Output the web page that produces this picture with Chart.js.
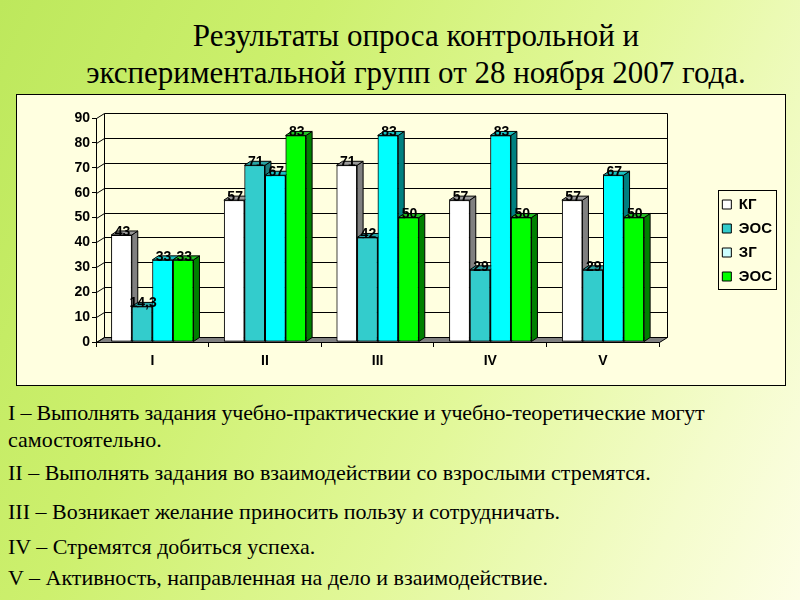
<!DOCTYPE html>
<html><head><meta charset="utf-8">
<script src="https://cdn.jsdelivr.net/npm/chart.js@4"></script>
<style>
html,body{margin:0;padding:0;}
body{width:800px;height:600px;overflow:hidden;position:relative;
background:linear-gradient(115deg,#bde85c 0%,#cdf06e 30%,#e2f89a 60%,#f4fccc 85%,#fdfee6 100%);
font-family:"Liberation Serif","Times New Roman",serif;color:#000;}
#title{position:absolute;left:30px;width:772px;top:17px;text-align:center;font-size:31px;line-height:37px;}
#box{position:absolute;left:16px;top:94px;width:769px;height:291px;background:#ffffe0;}
#frame{position:absolute;left:16px;top:94px;width:768px;height:290px;border:1px solid #000;pointer-events:none;}
.note{position:absolute;left:8px;font-size:22px;line-height:22px;white-space:nowrap;}
</style></head>
<body>
<div id="title">Результаты опроса контрольной и<br>экспериментальной групп от 28 ноября 2007 года.</div>
<div id="box"><canvas id="c"></canvas></div>
<div id="frame"></div>
<div class="note" style="top:402px;letter-spacing:-0.2px">I – Выполнять задания учебно-практические и учебно-теоретические могут</div>
<div class="note" style="top:429px">самостоятельно.</div>
<div class="note" style="top:462px">II – Выполнять задания во взаимодействии со взрослыми стремятся.</div>
<div class="note" style="top:501px">III – Возникает желание приносить пользу и сотрудничать.</div>
<div class="note" style="top:536px">IV – Стремятся добиться успеха.</div>
<div class="note" style="top:567px">V – Активность, направленная на дело и взаимодействие.</div>
<script>
// ---- data ----
const categories = ['I', 'II', 'III', 'IV', 'V'];
const seriesNames = ['КГ', 'ЭОС', 'ЗГ', 'ЭОС'];
const kgValues = [43, 57, 71, 57, 57];
const eos1Values = [14.3, 71, 42, 29, 29];
const zgValues = [33, 67, 83, 83, 67];
const eos2Values = [33, 83, 50, 50, 50];
const yTicks = [0, 10, 20, 30, 40, 50, 60, 70, 80, 90];

// ---- styles ----
const frontColors = ['#ffffff', '#33cccc', '#00ffff', '#00ff00'];
const sideColors = ['#808080', '#1a7a7a', '#008080', '#008000'];
const topColors = ['#9a9a9a', '#29a3a3', '#19c2c2', '#22c022'];
const legendColors = ['#ffffff', '#33cccc', '#ccffff', '#00ff00'];
const FONT = '"Liberation Sans", Arial, sans-serif';
const WALL_DX = 8, WALL_DY = 5, BAR_DX = 6, BAR_DY = 4;

const threeD = {
  id: 'threeD',
  beforeDatasetsDraw(chart) {
    const { ctx, chartArea: a, scales: { y } } = chart;
    ctx.save();
    ctx.lineWidth = 1; ctx.strokeStyle = '#000';
    const L = Math.round(a.left) + 0.5, R = Math.round(a.right) + 0.5;
    const yb = Math.round(y.getPixelForValue(yTicks[0])) + 0.5;
    const yt = Math.round(y.getPixelForValue(yTicks[yTicks.length - 1])) + 0.5;
    ctx.fillStyle = '#808080';
    ctx.beginPath();
    ctx.moveTo(L, yb); ctx.lineTo(R, yb); ctx.lineTo(R + WALL_DX, yb - WALL_DY); ctx.lineTo(L + WALL_DX, yb - WALL_DY);
    ctx.closePath(); ctx.fill(); ctx.stroke();
    for (const v of yTicks) {
      const yf = Math.round(y.getPixelForValue(v)) + 0.5;
      ctx.beginPath();
      ctx.moveTo(L, yf); ctx.lineTo(L + WALL_DX, yf - WALL_DY); ctx.lineTo(R + WALL_DX, yf - WALL_DY);
      ctx.stroke();
    }
    ctx.beginPath();
    ctx.moveTo(L + WALL_DX, yt - WALL_DY); ctx.lineTo(L + WALL_DX, yb - WALL_DY);
    ctx.moveTo(R + WALL_DX, yt - WALL_DY); ctx.lineTo(R + WALL_DX, yb - WALL_DY);
    ctx.stroke();
    ctx.restore();
  },
  afterDatasetsDraw(chart) {
    const ctx = chart.ctx;
    ctx.save();
    ctx.lineWidth = 1; ctx.strokeStyle = '#000';
    chart.data.datasets.forEach((ds, di) => {
      const meta = chart.getDatasetMeta(di);
      meta.data.forEach((el) => {
        el.draw(ctx);
        const p = el.getProps(['x', 'y', 'width', 'base'], true);
        const l = p.x - p.width / 2, r = p.x + p.width / 2;
        ctx.fillStyle = sideColors[di];
        ctx.beginPath();
        ctx.moveTo(r, p.y); ctx.lineTo(r + BAR_DX, p.y - BAR_DY); ctx.lineTo(r + BAR_DX, p.base - BAR_DY); ctx.lineTo(r, p.base);
        ctx.closePath(); ctx.fill(); ctx.stroke();
        ctx.fillStyle = topColors[di];
        ctx.beginPath();
        ctx.moveTo(l, p.y); ctx.lineTo(l + BAR_DX, p.y - BAR_DY); ctx.lineTo(r + BAR_DX, p.y - BAR_DY); ctx.lineTo(r, p.y);
        ctx.closePath(); ctx.fill(); ctx.stroke();
      });
    });
    ctx.font = 'bold 14px ' + FONT;
    ctx.fillStyle = '#000'; ctx.textAlign = 'center'; ctx.textBaseline = 'middle';
    chart.data.datasets.forEach((ds, di) => {
      chart.getDatasetMeta(di).data.forEach((el, i) => {
        const p = el.getProps(['x', 'y'], true);
        ctx.fillText(String(ds.data[i]).replace('.', ','), p.x + 1, p.y - 3);
      });
    });
    ctx.restore();
  }
};

const legendFrame = {
  id: 'legendFrame',
  afterDraw(chart) {
    const hb = chart.legend && chart.legend.legendHitBoxes;
    if (!hb || !hb.length) return;
    const ctx = chart.ctx;
    const left = Math.min(...hb.map(h => h.left)) - 4;
    const right = Math.max(...hb.map(h => h.left + h.width)) + 4;
    const top = hb[0].top - 7, bottom = hb[hb.length - 1].top + hb[hb.length - 1].height + 5;
    ctx.save();
    ctx.strokeStyle = '#000'; ctx.lineWidth = 1;
    ctx.strokeRect(Math.round(left) + 0.5, Math.round(top) + 0.5, Math.round(right - left), Math.round(bottom - top));
    ctx.restore();
  }
};

const seriesValues = [kgValues, eos1Values, zgValues, eos2Values];
new Chart(document.getElementById('c'), {
  type: 'bar',
  data: {
    labels: categories,
    datasets: seriesValues.map((vals, i) => ({
      label: seriesNames[i], data: vals,
      backgroundColor: frontColors[i], borderColor: '#000', borderWidth: 1, borderSkipped: false
    }))
  },
  options: {
    responsive: true, maintainAspectRatio: false, animation: false,
    layout: { padding: { top: 24, right: 3, left: 0, bottom: 0 } },
    datasets: { bar: { categoryPercentage: 0.73, barPercentage: 1 } },
    scales: {
      x: {
        offset: true,
        grid: { offset: true, drawOnChartArea: false, tickLength: 5, color: '#000' },
        border: { color: '#000' },
        ticks: { font: { family: FONT, weight: 'bold', size: 14 }, color: '#000', padding: 6 },
        afterFit(s) { s.height = 43; }
      },
      y: {
        min: 0, max: 90,
        ticks: { stepSize: 10, font: { family: FONT, weight: 'bold', size: 14 }, color: '#000', padding: 2 },
        grid: { drawOnChartArea: false, tickLength: 4, color: '#000' },
        border: { color: '#000' },
        afterFit(s) { s.width = 80; }
      },
      pad: {
        type: 'linear', position: 'right', display: true,
        grid: { display: false }, border: { display: false }, ticks: { display: false },
        afterFit(s) { s.width = 54; }
      }
    },
    plugins: {
      tooltip: { enabled: false },
      legend: {
        position: 'right', align: 'start',
        title: { display: true, text: '', padding: { top: 60, bottom: 0 }, font: { size: 10, lineHeight: 1 } },
        labels: {
          boxWidth: 9, boxHeight: 9, padding: 9, color: '#000',
          font: { family: FONT, weight: 'bold', size: 15 },
          generateLabels() {
            return seriesNames.map((n, i) => ({
              text: n, fillStyle: legendColors[i], strokeStyle: '#000', lineWidth: 1,
              hidden: false, datasetIndex: i, fontColor: '#000'
            }));
          }
        }
      }
    }
  },
  plugins: [threeD, legendFrame]
});
</script>
</body></html>
